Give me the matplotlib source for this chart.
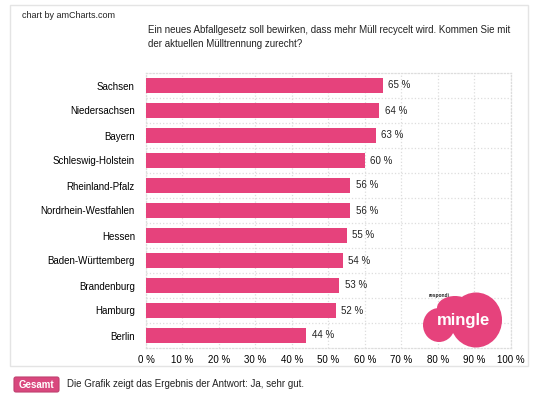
import matplotlib.pyplot as plt
from matplotlib.patches import Ellipse, FancyBboxPatch, Rectangle

plt.rcParams['font.family'] = ['Liberation Sans', 'DejaVu Sans']

# Daten
laender = ['Sachsen', 'Niedersachsen', 'Bayern', 'Schleswig-Holstein', 'Rheinland-Pfalz',
           'Nordrhein-Westfahlen', 'Hessen', 'Baden-Württemberg', 'Brandenburg', 'Hamburg', 'Berlin']
anteile = [65, 64, 63, 60, 56, 56, 55, 54, 53, 52, 44]
ticks = [0, 10, 20, 30, 40, 50, 60, 70, 80, 90, 100]
titel = ('Ein neues Abfallgesetz soll bewirken, dass mehr Müll recycelt wird. Kommen Sie mit\n'
         'der aktuellen Mülltrennung zurecht?')
hinweis = 'Die Grafik zeigt das Ergebnis der Antwort: Ja, sehr gut.'

pink = '#E6427C'
W, H = 539, 400

fig = plt.figure(figsize=(W / 100, H / 100), dpi=100)

# Hauptdiagramm (Pixelpositionen: x 146..510, y 73..348)
ax = fig.add_axes([146 / W, (H - 348) / H, 364.6 / W, 275 / H])
pos = list(range(len(laender)))
ax.barh(pos, anteile, height=0.6, color=pink, zorder=3)
for p, v in zip(pos, anteile):
    ax.text(v + 1.5, p, f'{v} %', va='center', ha='left', fontsize=7, color='#222222')
ax.set_xlim(0, 100)
ax.set_ylim(len(laender) - 0.5, -0.5)
ax.set_yticks(pos)
ax.set_yticklabels(laender, fontsize=7)
ax.set_xticks(ticks)
ax.set_xticklabels([f'{t} %' for t in ticks], fontsize=7)
ax.tick_params(length=0, pad=8)
ax.tick_params(axis='x', pad=5)
ax.set_yticks([p + 0.5 for p in pos[:-1]], minor=True)
ax.tick_params(which='minor', length=0)
ax.grid(axis='x', which='major', color='#dddddd', linestyle=':', linewidth=0.9, zorder=0)
ax.grid(axis='y', which='minor', color='#dddddd', linestyle=':', linewidth=0.9, zorder=0)
for s in ax.spines.values():
    s.set_color('#dddddd')
    s.set_linestyle(':')
    s.set_linewidth(0.9)

# Overlay für Rahmen, Logo und Texte (Pixelkoordinaten)
ov = fig.add_axes([0, 0, 1, 1], zorder=5)
ov.set_xlim(0, W)
ov.set_ylim(H, 0)
ov.axis('off')
ov.patch.set_alpha(0)

ov.add_patch(Rectangle((10, 5), 518, 361, fill=False, edgecolor='#e4e4e4', linewidth=1))
ov.text(22, 16, 'chart by amCharts.com', fontsize=6.5, va='center', ha='left', color='#222222')
ov.text(148, 37, titel, fontsize=7, va='center', ha='left', color='#222222', linespacing=1.4)

# respondi mingle Logo
for cx, cy, w, h in [(439, 325, 32, 34), (476, 320, 52, 55), (455, 308, 36, 24)]:
    ov.add_patch(Ellipse((cx, cy), w, h, facecolor=pink, edgecolor='none'))
ov.text(463, 320, 'mingle', fontsize=12, fontweight='bold', color='white', ha='center', va='center')
ov.text(439, 295, 'respondi', fontsize=3.5, fontweight='bold', color='#222222', ha='center', va='center')

# Gesamt-Button und Hinweis
ov.add_patch(FancyBboxPatch((14, 377), 45, 15, boxstyle='round,pad=0,rounding_size=2',
                            facecolor='#D9487E', edgecolor='#c0406f', linewidth=0.8))
ov.text(36.5, 384.5, 'Gesamt', fontsize=7, fontweight='bold', color='white', ha='center', va='center')
ov.text(67, 384, hinweis, fontsize=7, color='#222222', ha='left', va='center')

fig.savefig('out.png', dpi=100)
